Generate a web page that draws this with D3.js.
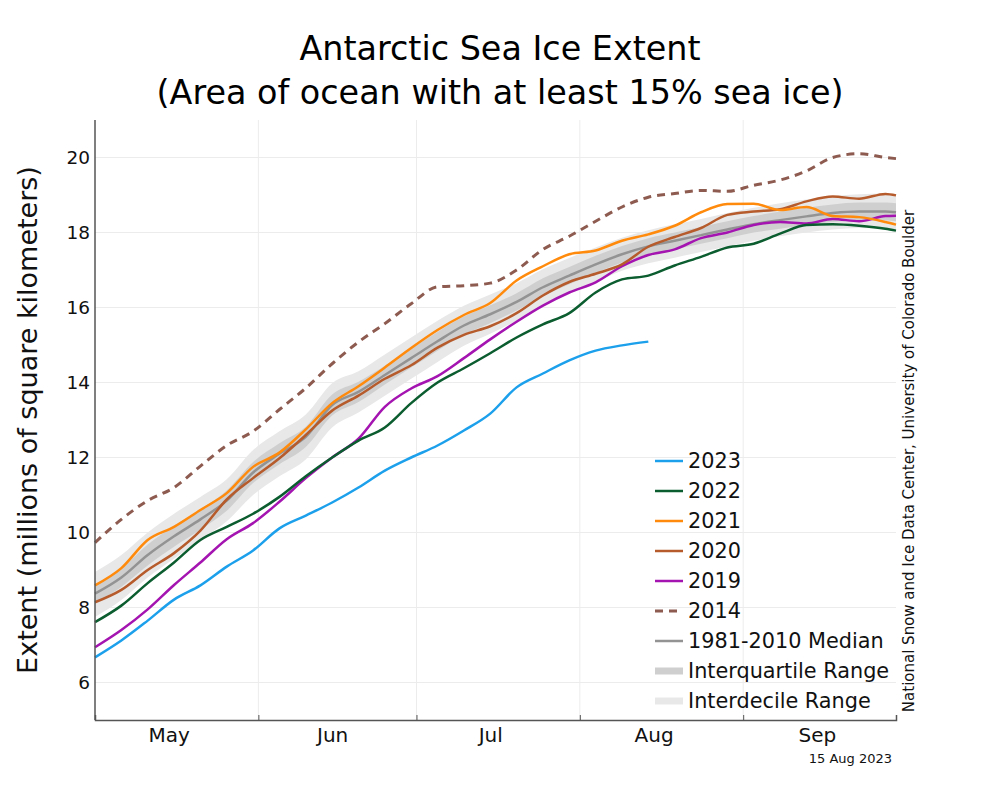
<!DOCTYPE html>
<html>
<head>
<meta charset="utf-8">
<script src="https://cdn.jsdelivr.net/npm/d3@7"></script>
<style>
  html, body { margin: 0; padding: 0; background: #ffffff; }
  svg { display: block; font-family: "DejaVu Sans", sans-serif; }
</style>
</head>
<body>
<svg id="chart" width="1000" height="800"></svg>
<script>
// ---- DATA ----
// day offsets from 1 May (season start)
const dayOffsets = [0,5,10,15,20,25,30,35,40,45,50,55,60,65,70,75,80,85,90,95,100,105,110,115,120,125,130,135,140,145,150,152];

const y2023 = [6.67,7.12,7.65,8.21,8.59,9.09,9.52,10.11,10.45,10.80,11.20,11.65,12.00,12.32,12.72,13.17,13.87,14.24,14.59,14.85,14.99,15.09];
const y2022 = [7.61,8.05,8.65,9.20,9.80,10.15,10.50,10.95,11.50,12.00,12.45,12.80,13.45,14.00,14.38,14.78,15.20,15.55,15.85,16.40,16.75,16.85,17.12,17.35,17.60,17.70,17.97,18.20,18.22,18.18,18.10,18.05];
const y2021 = [8.59,9.05,9.80,10.15,10.60,11.05,11.75,12.13,12.75,13.45,13.90,14.40,14.92,15.40,15.80,16.12,16.72,17.10,17.42,17.52,17.78,17.95,18.18,18.54,18.76,18.77,18.60,18.68,18.44,18.41,18.28,18.21];
const y2020 = [8.14,8.47,9.00,9.45,10.05,10.88,11.45,11.98,12.60,13.25,13.65,14.10,14.46,14.93,15.27,15.50,15.85,16.32,16.68,16.90,17.15,17.62,17.88,18.12,18.47,18.56,18.62,18.83,18.96,18.90,19.03,18.99];
const y2019 = [6.94,7.40,7.95,8.60,9.20,9.82,10.25,10.82,11.45,12.00,12.50,13.35,13.84,14.17,14.65,15.15,15.62,16.05,16.40,16.67,17.10,17.40,17.55,17.85,18.00,18.20,18.28,18.24,18.36,18.30,18.44,18.45];
const y2014 = [9.73,10.35,10.85,11.20,11.77,12.32,12.70,13.28,13.85,14.50,15.08,15.57,16.10,16.55,16.58,16.65,17.00,17.55,17.90,18.30,18.68,18.94,19.04,19.12,19.10,19.26,19.40,19.64,20.00,20.10,20.00,19.97];
const median = [8.37,8.80,9.40,9.90,10.35,10.85,11.60,12.10,12.55,13.40,13.75,14.20,14.65,15.10,15.52,15.82,16.15,16.54,16.85,17.15,17.42,17.63,17.78,17.93,18.08,18.22,18.33,18.43,18.52,18.56,18.56,18.54];
const iqrLow  = [8.12,8.55,9.12,9.62,10.08,10.58,11.32,11.82,12.28,13.12,13.48,13.95,14.40,14.85,15.28,15.58,15.92,16.30,16.62,16.92,17.20,17.40,17.55,17.70,17.85,18.00,18.10,18.20,18.28,18.32,18.32,18.30];
const iqrHigh = [8.62,9.05,9.68,10.18,10.62,11.12,11.88,12.38,12.82,13.68,14.02,14.45,14.90,15.35,15.76,16.06,16.38,16.78,17.08,17.38,17.64,17.85,18.00,18.15,18.30,18.44,18.56,18.66,18.75,18.80,18.80,18.78];
const idrLow  = [7.75,8.20,8.80,9.30,9.80,10.30,11.00,11.50,11.95,12.80,13.20,13.65,14.10,14.55,14.98,15.30,15.65,16.05,16.38,16.68,16.98,17.18,17.33,17.48,17.63,17.78,17.90,18.00,18.08,18.12,18.10,18.08];
const idrHigh = [8.95,9.40,10.00,10.50,10.95,11.42,12.20,12.70,13.15,13.98,14.30,14.75,15.20,15.65,16.05,16.35,16.65,17.02,17.32,17.60,17.86,18.06,18.22,18.36,18.52,18.66,18.78,18.88,18.97,19.02,19.04,19.02];

const yTicks = [6,8,10,12,14,16,18,20];
const monthLabels = ["May","Jun","Jul","Aug","Sep"];
const legendLabels = ["2023","2022","2021","2020","2019","2014","1981-2010 Median","Interquartile Range","Interdecile Range"];
const titleLines = ["Antarctic Sea Ice Extent","(Area of ocean with at least 15% sea ice)"];
const yTitle = "Extent (millions of square kilometers)";
const credit = "National Snow and Ice Data Center, University of Colorado Boulder";
const dateStamp = "15 Aug 2023";

// ---- LAYOUT ----
const svg = d3.select("#chart");
const L = 95, R = 896, T = 120, B = 720;
const start = new Date(2023, 4, 1);
const dayToDate = d => d3.timeDay.offset(start, d);
const x = d3.scaleTime().domain([start, new Date(2023, 8, 30)]).range([L, R]);
const y = d3.scaleLinear().domain([5, 21]).range([B, T]);

svg.append("rect").attr("width", 1000).attr("height", 800).attr("fill", "#fff");

const monthStarts = [1,2,3,4].map(m => new Date(2023, m + 4, 1));
const monthMid = monthLabels.map((m, i) => new Date(2023, 4 + i, 15));

// grid
const grid = svg.append("g").attr("stroke", "#ececec").attr("stroke-width", 1);
grid.selectAll("line.h").data(yTicks).join("line")
  .attr("x1", L).attr("x2", R).attr("y1", d => y(d)).attr("y2", d => y(d));
grid.selectAll("line.v").data(monthStarts).join("line")
  .attr("x1", d => x(d)).attr("x2", d => x(d)).attr("y1", T).attr("y2", B);

// bands
const series = d => dayOffsets.slice(0, d.length).map((o, i) => ({date: dayToDate(o), v: d[i]}));
const band = (lo, hi) => dayOffsets.map((o, i) => ({date: dayToDate(o), lo: lo[i], hi: hi[i]}));
const area = d3.area().x(d => x(d.date)).y0(d => y(d.lo)).y1(d => y(d.hi)).curve(d3.curveMonotoneX);
svg.append("path").datum(band(idrLow, idrHigh)).attr("d", area).attr("fill", "#e8e8e8");
svg.append("path").datum(band(iqrLow, iqrHigh)).attr("d", area).attr("fill", "#cfcfcf");

const line = d3.line().x(d => x(d.date)).y(d => y(d.v)).curve(d3.curveMonotoneX);
svg.append("path").datum(series(median)).attr("d", line).attr("fill", "none").attr("stroke", "#939393").attr("stroke-width", 2.5);

const lines = [
  {data: y2014, color: "#8e5b50", dash: "8,6", w: 3},
  {data: y2019, color: "#a414b0", w: 2.5},
  {data: y2020, color: "#b65b2b", w: 2.5},
  {data: y2021, color: "#ff8a0c", w: 2.5},
  {data: y2022, color: "#0b5c2f", w: 2.5},
  {data: y2023, color: "#1ca0ec", w: 2.5}
];
lines.forEach(s => {
  svg.append("path").datum(series(s.data)).attr("d", line).attr("fill", "none")
    .attr("stroke", s.color).attr("stroke-width", s.w).attr("stroke-dasharray", s.dash || null)
    .attr("stroke-linejoin", "round");
});

// axes
const xAxis = svg.append("g").attr("transform", `translate(0,${B})`)
  .call(d3.axisBottom(x).tickValues(monthStarts).tickSize(-5).tickFormat(""));
xAxis.select(".domain").attr("stroke", "#555").attr("stroke-width", 1.5);
xAxis.selectAll(".tick line").attr("stroke", "#555");
const xLab = svg.append("g").attr("transform", `translate(0,${B})`)
  .call(d3.axisBottom(x).tickValues(monthMid).tickSize(0).tickPadding(8).tickFormat(d3.timeFormat("%b")));
xLab.select(".domain").remove();
xLab.selectAll("text").attr("font-size", 20).attr("font-family", "DejaVu Sans").attr("fill", "#111");

const yAxis = svg.append("g").attr("transform", `translate(${L},0)`)
  .call(d3.axisLeft(y).tickValues(yTicks).tickSize(0).tickPadding(5).tickFormat(d3.format("d")));
yAxis.select(".domain").attr("stroke", "#555").attr("stroke-width", 1.5).attr("d", `M0,${T}V${B}`);
yAxis.selectAll("text").attr("font-size", 18.5).attr("font-family", "DejaVu Sans").attr("fill", "#111");

// titles
svg.selectAll("text.title").data(titleLines).join("text")
  .attr("x", 500).attr("y", (d, i) => 60 + i * 44)
  .attr("text-anchor", "middle").attr("font-size", 33.4).attr("fill", "#000").text(d => d);

svg.append("text").attr("transform", "translate(37,420) rotate(-90)")
  .attr("text-anchor", "middle").attr("font-size", 27).attr("fill", "#111").text(yTitle);

svg.append("text").attr("transform", "translate(914,461) rotate(-90)")
  .attr("text-anchor", "middle").attr("font-size", 15).attr("fill", "#111").text(credit);

svg.append("text").attr("x", 892).attr("y", 763).attr("text-anchor", "end")
  .attr("font-size", 13).attr("fill", "#111").text(dateStamp);

// legend
const legendStyle = [
  {color: "#1ca0ec", w: 2.5},
  {color: "#0b5c2f", w: 2.5},
  {color: "#ff8a0c", w: 2.5},
  {color: "#b65b2b", w: 2.5},
  {color: "#a414b0", w: 2.5},
  {color: "#8e5b50", w: 3, dash: "8,6"},
  {color: "#939393", w: 2.5},
  {color: "#cfcfcf", w: 7},
  {color: "#e8e8e8", w: 7}
];
const lg = svg.append("g");
const rows = lg.selectAll("g").data(legendLabels).join("g")
  .attr("transform", (d, i) => `translate(655,${461 + i * 30})`);
rows.append("line").attr("x1", 0).attr("x2", 28).attr("y1", 0).attr("y2", 0)
  .attr("stroke", (d, i) => legendStyle[i].color).attr("stroke-width", (d, i) => legendStyle[i].w)
  .attr("stroke-dasharray", (d, i) => legendStyle[i].dash || null);
rows.append("text").attr("x", 33).attr("y", 0).attr("dy", "0.35em")
  .attr("font-size", 20.8).attr("fill", "#111").text(d => d);
</script>
</body>
</html>
